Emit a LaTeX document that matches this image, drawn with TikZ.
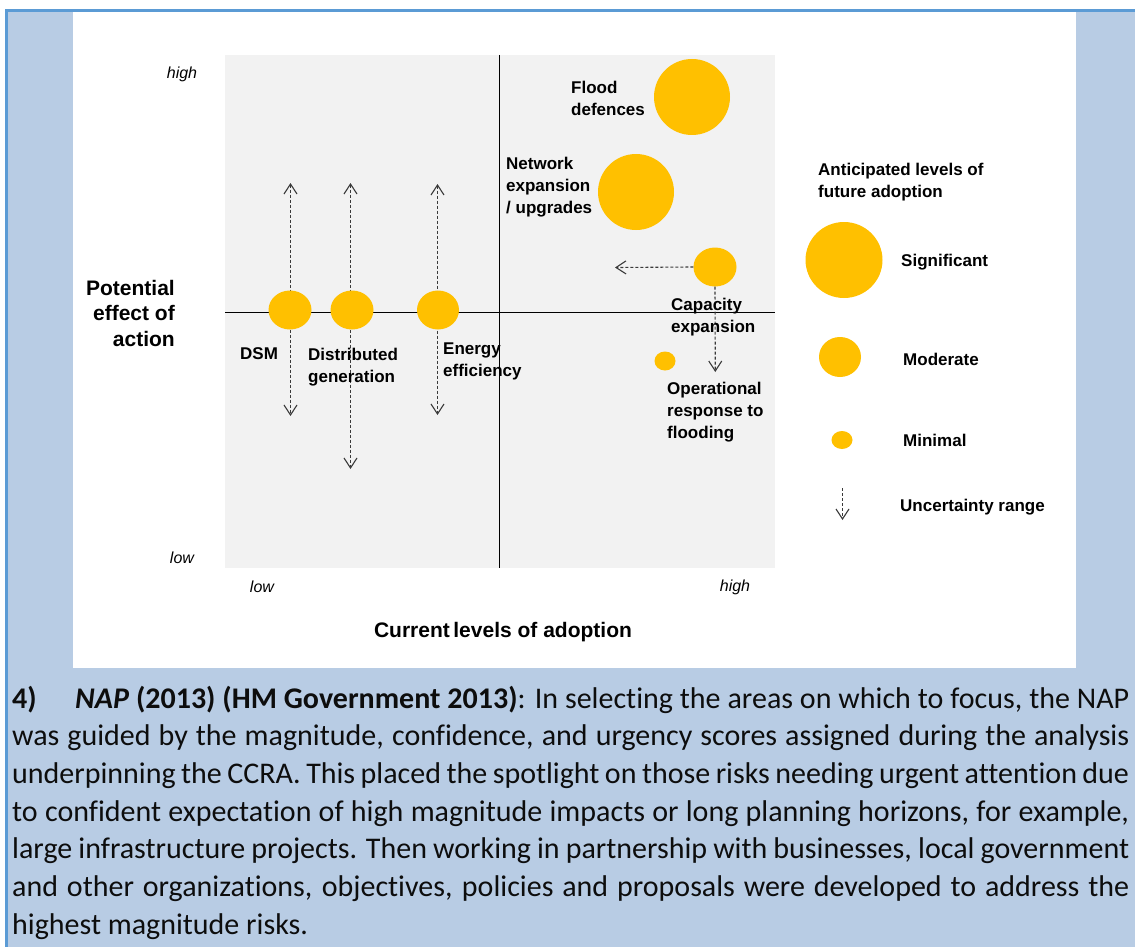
\documentclass[tikz,border=0pt]{standalone}
\usepackage{fontspec}
\setmainfont{Carlito}[Ligatures=NoCommon]
\newfontfamily\arialf{Liberation Sans}
\usetikzlibrary{arrows.meta,shapes.geometric}
\definecolor{bordblue}{HTML}{5B9BD5}
\definecolor{fillblue}{HTML}{B8CCE4}
\definecolor{plotgrey}{HTML}{F2F2F2}
\definecolor{amber}{HTML}{FFC000}
\definecolor{dashgrey}{HTML}{3A3A3A}
\definecolor{bodyink}{HTML}{0D0D0D}
\begin{document}
\begin{tikzpicture}[x=1pt,y=-1pt,
  bubble/.style={ellipse, fill=amber, draw=none, inner sep=0pt},
  unc/.style={draw=dashgrey, line width=1.1pt, dash pattern=on 3pt off 2pt},
  unctip/.style={-{Straight Barb[length=10pt,width=13pt,line width=1.1pt]}},
  bothtip/.style={{Straight Barb[length=10pt,width=13pt,line width=1.1pt]}-{Straight Barb[length=10pt,width=13pt,line width=1.1pt]}},
  lbl/.style={font=\arialf\bfseries\fontsize{17}{22}\selectfont, align=left, inner sep=0pt, anchor=west},
  biglbl/.style={font=\arialf\bfseries\fontsize{21}{25.5}\selectfont, inner sep=0pt},
  axlbl/.style={font=\arialf\itshape\fontsize{16}{19}\selectfont, inner sep=0pt},
  bodyline/.style={anchor=base west, inner sep=0pt, font=\fontsize{30}{37.7}\selectfont, text=bodyink}]
\useasboundingbox (0,0) rectangle (1135,947);
% backgrounds
\fill[white] (0,0) rectangle (1135,947);
\fill[fillblue] (8,12) rectangle (1135,947);
\fill[bordblue] (5,9) rectangle (1135,12);
\fill[bordblue] (5,9) rectangle (8,947);
\fill[white] (73,12) rectangle (1076,668);
\fill[plotgrey] (225,55) rectangle (775,568);
% axes
\coordinate (axT) at (499.5,55);
\coordinate (axB) at (499.5,568);
\coordinate (axL) at (225,312.5);
\coordinate (axR) at (775,312.5);
\draw[line width=1.8pt] (axT) -- (axB);
\draw[line width=1.8pt] (axL) -- (axR);
% uncertainty ranges
\coordinate (dsmT) at (290.5,183);
\coordinate (dsmB) at (290.5,416);
\coordinate (dgT) at (350.5,183);
\coordinate (dgB) at (350.5,469);
\coordinate (eeT) at (437.5,184);
\coordinate (eeB) at (437.5,415);
\draw[unc, bothtip] (dsmT) -- (dsmB);
\draw[unc, bothtip] (dgT) -- (dgB);
\draw[unc, bothtip] (eeT) -- (eeB);
% bubbles
\node[bubble, minimum width=76pt, minimum height=76pt] (flood) at (692,97) {};
\node[bubble, minimum width=76pt, minimum height=76pt] (network) at (636,192) {};
\node[bubble, minimum width=43pt, minimum height=39pt] (capacity) at (715,267) {};
\node[bubble, minimum width=43pt, minimum height=39pt] (dsm) at (290,310) {};
\node[bubble, minimum width=43pt, minimum height=39pt] (distgen) at (352,310) {};
\node[bubble, minimum width=42pt, minimum height=39pt] (energy) at (438,310) {};
\node[bubble, minimum width=21pt, minimum height=19pt] (oper) at (665,361) {};
% capacity arrows
\coordinate (capL) at (615,267.5);
\coordinate (capD) at (715.3,372);
\draw[unc, unctip] (capacity.west) -- (capL);
\draw[unc, unctip] (capacity.south) -- (capD);
% chart labels
\node[lbl] (lflood) at (571,98) {Flood\\defences};
\node[lbl] (lnet) at (506,187) {Network\\expansion\\/ upgrades};
\node[lbl] (lcap) at (671,317) {Capacity\\expansion};
\node[lbl] (loper) at (667,412) {Operational\\response to\\flooding};
\node[lbl] (ldsm) at (240,354) {DSM};
\node[lbl] (ldist) at (308,367) {Distributed\\generation};
\node[lbl] (lener) at (443,361) {Energy\\efficiency};
\node[biglbl, align=right, anchor=east] (ypot) at (175,313) {Potential\\effect of\\action};
\node[biglbl] (xcur) at (503,632) {Current\,levels of adoption};
\node[axlbl] (yhigh) at (182,74) {high};
\node[axlbl] (ylow) at (182,558) {low};
\node[axlbl] (xlow) at (262,587) {low};
\node[axlbl] (xhigh) at (735,587) {high};
% legend
\node[lbl] (lhead) at (818,182) {Anticipated levels of\\future adoption};
\node[bubble, minimum width=77pt, minimum height=76pt] (sig) at (844,260) {};
\node[bubble, minimum width=42pt, minimum height=40pt] (mod) at (840,357) {};
\node[bubble, minimum width=21pt, minimum height=18pt] (mini) at (842,440) {};
\node[lbl] (lsig) at (901,262) {Significant};
\node[lbl] (lmod) at (903,359) {Moderate};
\node[lbl] (lmin) at (903,440) {Minimal};
\coordinate (legT) at (842.5,488);
\coordinate (legB) at (842.5,520);
\draw[unc, unctip] (legT) -- (legB);
\node[lbl] (lunc) at (900,507) {Uncertainty range};
% body text
\node[bodyline] (b1) at (12,708) {\makebox[1117pt][s]{\makebox[63pt][l]{\textbf{4)}}\textbf{\textit{NAP} (2013) (HM Government 2013)}: In selecting the areas on which to focus, the NAP}};
\node[bodyline] (b2) at (12,745.7) {\makebox[1117pt][s]{was guided by the magnitude, confidence, and urgency scores assigned during the analysis}};
\node[bodyline] (b3) at (12,783.4) {\makebox[1117pt][s]{underpinning the CCRA. This placed the spotlight on those risks needing urgent attention due}};
\node[bodyline] (b4) at (12,821.1) {\makebox[1117pt][s]{to confident expectation of high magnitude impacts or long planning horizons, for example,}};
\node[bodyline] (b5) at (12,858.8) {\makebox[1117pt][s]{large infrastructure projects. Then working in partnership with businesses, local government}};
\node[bodyline] (b6) at (12,896.5) {\makebox[1117pt][s]{and other organizations, objectives, policies and proposals were developed to address the}};
\node[bodyline] (b7) at (12,934.2) {highest magnitude risks.};
\end{tikzpicture}
\end{document}
